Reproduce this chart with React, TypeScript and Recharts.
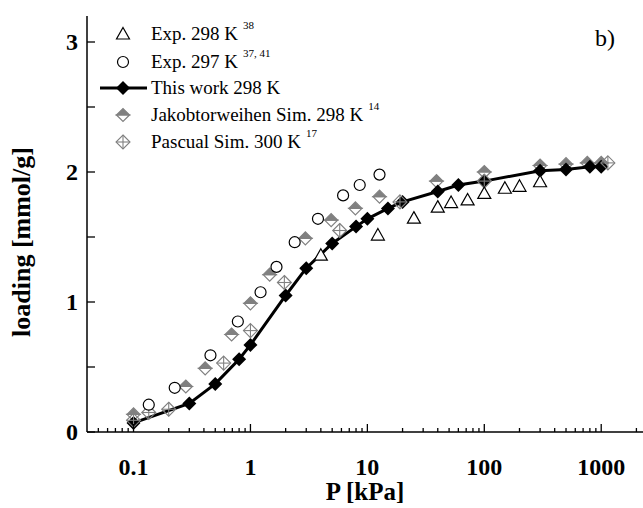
import React from 'react';
import { ScatterChart, Scatter, XAxis, YAxis } from 'recharts';

// pressures in kPa, loadings in mmol/g
const thisWorkP = [0.1, 0.3, 0.5, 0.8, 1, 2, 3, 5, 8, 10, 15, 20, 40, 60, 100, 300, 500, 800, 1000];
const thisWorkL = [0.07, 0.22, 0.37, 0.56, 0.67, 1.05, 1.26, 1.45, 1.58, 1.64, 1.72, 1.77, 1.85, 1.9, 1.93, 2.01, 2.02, 2.04, 2.04];

const exp298P = [4, 12.3, 25, 40, 52, 72, 100, 150, 200, 300];
const exp298L = [1.36, 1.515, 1.645, 1.73, 1.765, 1.785, 1.835, 1.875, 1.89, 1.925];

const exp297P = [0.135, 0.225, 0.455, 0.78, 1.22, 1.67, 2.39, 3.78, 6.2, 8.6, 12.7];
const exp297L = [0.21, 0.34, 0.59, 0.85, 1.075, 1.27, 1.46, 1.64, 1.82, 1.9, 1.98];

const jakobP = [0.1, 0.28, 0.41, 0.69, 1, 1.46, 2.95, 4.9, 7.9, 12.7, 39, 100, 300, 500, 760, 1000];
const jakobL = [0.135, 0.35, 0.49, 0.75, 0.99, 1.21, 1.49, 1.63, 1.72, 1.81, 1.93, 2.0, 2.05, 2.06, 2.07, 2.07];

const pascualP = [0.1, 0.135, 0.2, 0.59, 1.0, 1.95, 5.8, 19, 100, 1140];
const pascualL = [0.09, 0.15, 0.175, 0.53, 0.78, 1.15, 1.55, 1.77, 1.93, 2.07];

const xMajor = [0.1, 1, 10, 100, 1000];
const xMinorMult = [2, 3, 4, 5, 6, 7, 8, 9];
const yTicks = [0, 0.5, 1, 1.5, 2, 2.5, 3];
const yLabels = [0, 1, 2, 3];

const xTicks = [0.05, 0.06, 0.07, 0.08, 0.09]
  .concat(...xMajor.map((d) => [d].concat(xMinorMult.map((m) => +(d * m).toPrecision(3)))))
  .filter((v) => v <= 2000);

const pts = (p: number[], l: number[]) => p.map((x, i) => ({ p: x, l: l[i] }));

const FONT = "'Liberation Serif', 'Times New Roman', serif";
const GRAY = '#808080';

const Tri = ({ cx, cy }: any) => (
  <polygon points={`${cx},${cy - 6.5} ${cx + 6.5},${cy + 5} ${cx - 6.5},${cy + 5}`} fill="#fff" stroke="#000" strokeWidth={1.2} />
);
const Circ = ({ cx, cy }: any) => <circle cx={cx} cy={cy} r={5.5} fill="#fff" stroke="#000" strokeWidth={1.2} />;
const BlackDia = ({ cx, cy }: any) => (
  <polygon points={`${cx},${cy - 7} ${cx + 7},${cy} ${cx},${cy + 7} ${cx - 7},${cy}`} fill="#000" />
);
const HalfDia = ({ cx, cy }: any) => (
  <g>
    <polygon points={`${cx - 6.5},${cy} ${cx},${cy + 6.5} ${cx + 6.5},${cy}`} fill="#fff" stroke={GRAY} strokeWidth={1.2} />
    <polygon points={`${cx - 6.5},${cy} ${cx},${cy - 6.5} ${cx + 6.5},${cy}`} fill={GRAY} stroke={GRAY} strokeWidth={1.2} />
  </g>
);
const CrossDia = ({ cx, cy }: any) => (
  <g stroke={GRAY} strokeWidth={1.1} fill="none">
    <polygon points={`${cx},${cy - 7} ${cx + 7},${cy} ${cx},${cy + 7} ${cx - 7},${cy}`} />
    <line x1={cx - 7} x2={cx + 7} y1={cy} y2={cy} />
    <line x1={cx} x2={cx} y1={cy - 7} y2={cy + 7} />
  </g>
);

const BottomTick = (props: any) => {
  const { x, y, payload } = props;
  const major = xMajor.includes(payload.value);
  return (
    <g>
      <line x1={x} x2={x} y1={y} y2={y - (major ? 8 : 4)} stroke="#000" strokeWidth={1.3} />
      {major && (
        <text x={x} y={y + 43} textAnchor="middle" fontFamily={FONT} fontWeight="bold" fontSize={24} fill="#000">
          {String(payload.value)}
        </text>
      )}
    </g>
  );
};

const TopTick = (props: any) => {
  const { x, y, payload } = props;
  const major = xMajor.includes(payload.value);
  return <line x1={x} x2={x} y1={y} y2={y + (major ? 6 : 3)} stroke="#000" strokeWidth={1.2} />;
};

const LeftTick = (props: any) => {
  const { x, y, payload } = props;
  const label = yLabels.includes(payload.value);
  return (
    <g>
      <line x1={x} x2={x + 8} y1={y} y2={y} stroke="#000" strokeWidth={1.3} />
      {label && (
        <text x={x - 9} y={y + 8} textAnchor="end" fontFamily={FONT} fontWeight="bold" fontSize={24} fill="#000">
          {payload.value}
        </text>
      )}
    </g>
  );
};

const legendRows = [
  { y: 40, text: 'Exp. 298 K', sup: '38', Mark: Tri },
  { y: 68, text: 'Exp. 297 K', sup: '37, 41', Mark: Circ },
  { y: 94, text: 'This work 298 K', sup: '', Mark: BlackDia },
  { y: 121, text: 'Jakobtorweihen Sim. 298 K', sup: '14', Mark: HalfDia },
  { y: 148, text: 'Pascual Sim. 300 K', sup: '17', Mark: CrossDia },
];

export default function App() {
  return (
    <div style={{ position: 'absolute', left: 0, top: 0, width: 643, height: 508, overflow: 'hidden', background: '#fff' }}>
      <ScatterChart width={657} height={508} margin={{ top: 16, right: 0, bottom: 0, left: 0 }}>
        <XAxis
          dataKey="p"
          type="number"
          scale="log"
          domain={[0.04, 3000]}
          allowDataOverflow
          ticks={xTicks}
          interval={0}
          tick={BottomTick}
          tickLine={false}
          tickSize={0}
          tickMargin={0}
          height={76}
          axisLine={{ stroke: '#000', strokeWidth: 1.5 }}
        />
        <XAxis
          xAxisId="top"
          orientation="top"
          dataKey="p"
          type="number"
          scale="log"
          domain={[0.04, 3000]}
          allowDataOverflow
          ticks={xTicks}
          interval={0}
          tick={TopTick}
          tickLine={false}
          tickSize={0}
          tickMargin={0}
          height={0}
          axisLine={{ stroke: '#000', strokeWidth: 1.5 }}
        />
        <YAxis
          dataKey="l"
          type="number"
          domain={[0, 3.2]}
          allowDataOverflow
          ticks={yTicks}
          interval={0}
          tick={LeftTick}
          tickLine={false}
          tickSize={0}
          tickMargin={0}
          width={87}
          axisLine={{ stroke: '#000', strokeWidth: 1.5 }}
        />
        <Scatter data={pts(jakobP, jakobL)} shape={HalfDia} isAnimationActive={false} />
        <Scatter
          data={pts(thisWorkP, thisWorkL)}
          shape={BlackDia}
          line={{ stroke: '#000', strokeWidth: 3 }}
          lineType="joint"
          isAnimationActive={false}
        />
        <Scatter data={pts(pascualP, pascualL)} shape={CrossDia} isAnimationActive={false} />
        <Scatter data={pts(exp297P, exp297L)} shape={Circ} isAnimationActive={false} />
        <Scatter data={pts(exp298P, exp298L)} shape={Tri} isAnimationActive={false} />
      </ScatterChart>
      <svg width={643} height={508} style={{ position: 'absolute', left: 0, top: 0, pointerEvents: 'none' }}>
        {legendRows.map((r, i) => (
          <g key={i}>
            {i === 2 && <line x1={100} x2={147} y1={r.y - 6} y2={r.y - 6} stroke="#000" strokeWidth={3} />}
            <r.Mark cx={123} cy={r.y - 6} />
            <text x={151} y={r.y} fontFamily={FONT} fontSize={19} fill="#000">
              {r.text}
              {r.sup && (
                <tspan dx={5} dy={-11} fontSize={11}>
                  {r.sup}
                </tspan>
              )}
            </text>
          </g>
        ))}
        <text x={595} y={46} fontFamily={FONT} fontSize={24} fill="#000">b)</text>
        <text x={365} y={500} textAnchor="middle" fontFamily={FONT} fontWeight="bold" fontSize={25} fill="#000">P [kPa]</text>
        <text
          x={30}
          y={242}
          transform="rotate(-90 30 242)"
          textAnchor="middle"
          fontFamily={FONT}
          fontWeight="bold"
          fontSize={26}
          fill="#000"
        >
          loading [mmol/g]
        </text>
      </svg>
    </div>
  );
}
